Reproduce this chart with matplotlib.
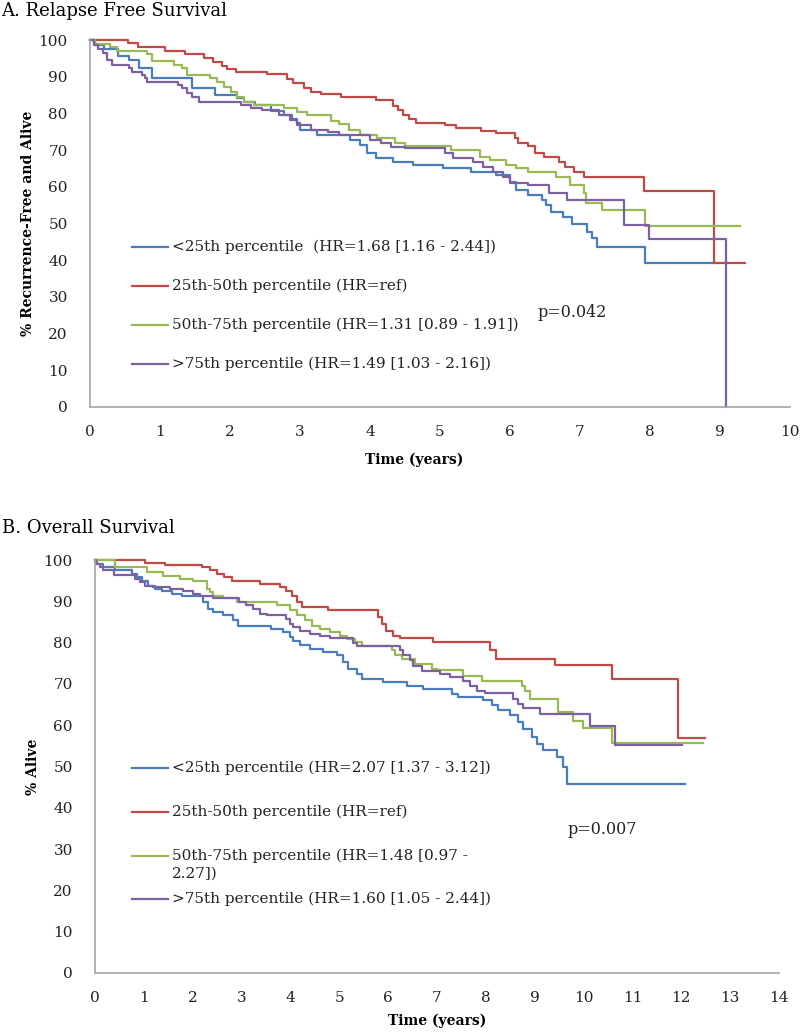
import matplotlib
matplotlib.use("Agg")
import matplotlib.pyplot as plt
from matplotlib.lines import Line2D

# -------- data --------
# Panel A: relapse free survival, step start times (years) and % event-free
rfs_lt25_t = [0, 0.07, 0.2, 0.4, 0.55, 0.7, 0.88, 1.45, 1.78, 2.1, 2.2, 2.35, 2.59, 2.77, 2.88,
              2.95, 3.0, 3.24, 3.72, 3.86, 3.95, 4.09, 4.33, 4.62, 5.04, 5.44, 5.8, 6.0, 6.08,
              6.25, 6.46, 6.51, 6.58, 6.75, 6.89, 7.1, 7.17, 7.24, 7.93, 8.92]
rfs_lt25_s = [100, 98.6, 97.5, 95.7, 94.5, 92.3, 89.6, 86.8, 85.0, 84.1, 83.2, 82.3, 80.6, 79.6, 78.4,
              77.3, 75.5, 74.1, 72.8, 71.4, 69.1, 67.8, 66.8, 65.9, 65.0, 64.1, 63.2, 61.4, 59.1,
              57.8, 56.4, 55.0, 53.2, 51.9, 50.0, 47.8, 46.0, 43.7, 39.2, 39.2]

rfs_25_50_t = [0, 0.54, 0.68, 1.07, 1.35, 1.63, 1.75, 1.88, 1.95, 2.09, 2.53, 2.82, 2.9, 3.05, 3.15,
               3.3, 3.58, 4.09, 4.33, 4.4, 4.47, 4.55, 4.66, 5.07, 5.23, 5.58, 5.8, 6.07, 6.12, 6.25,
               6.35, 6.49, 6.7, 6.79, 6.92, 7.06, 7.91, 8.92, 9.35]
rfs_25_50_s = [100, 99.1, 98.2, 97.1, 96.2, 95.2, 94.1, 93.0, 92.0, 91.4, 90.6, 89.5, 88.2, 87.0, 85.9,
               85.2, 84.4, 83.6, 82.0, 80.8, 79.5, 78.5, 77.5, 76.8, 75.9, 75.2, 74.6, 73.3, 72.0, 71.0,
               69.1, 68.0, 66.8, 65.5, 64.1, 62.6, 58.9, 39.2, 39.2]

rfs_50_75_t = [0, 0.07, 0.28, 0.38, 0.81, 0.88, 1.2, 1.31, 1.39, 1.72, 1.82, 1.92, 2.02, 2.1, 2.2,
               2.34, 2.77, 2.95, 3.1, 3.44, 3.55, 3.7, 3.85, 4.1, 4.35, 4.5, 5.16, 5.57, 5.71, 5.94,
               6.08, 6.25, 6.65, 6.86, 7.06, 7.09, 7.31, 7.93, 9.28]
rfs_50_75_s = [100, 98.8, 98.2, 97.0, 96.1, 94.3, 93.2, 92.3, 90.5, 89.6, 88.6, 87.3, 85.9, 84.6, 83.2,
               82.3, 81.6, 80.5, 79.6, 77.9, 77.0, 75.5, 74.1, 73.2, 71.9, 71.0, 70.0, 68.2, 67.3, 65.9,
               65.0, 64.1, 62.8, 60.5, 58.2, 55.5, 53.7, 49.3, 49.3]

rfs_gt75_t = [0, 0.05, 0.12, 0.19, 0.24, 0.31, 0.55, 0.6, 0.74, 0.78, 0.82, 1.25, 1.31, 1.38, 1.45,
              1.56, 2.15, 2.3, 2.45, 2.7, 2.85, 2.95, 3.15, 3.4, 3.55, 4.0, 4.15, 4.3, 4.5, 5.07,
              5.18, 5.47, 5.61, 5.75, 5.9, 6.0, 6.25, 6.56, 6.82, 7.63, 7.98, 9.09]
rfs_gt75_s = [100, 98.6, 97.5, 96.4, 94.5, 93.2, 92.3, 91.4, 90.5, 89.6, 88.6, 87.7, 86.8, 85.5, 84.6,
              83.2, 82.3, 81.4, 80.9, 79.6, 78.2, 76.8, 75.5, 75.0, 74.1, 72.8, 71.9, 70.9, 70.5, 69.1,
              67.8, 66.8, 65.5, 64.1, 62.8, 61.0, 60.5, 58.2, 56.4, 49.6, 45.7, 0]

# Panel B: overall survival
os_lt25_t = [0, 0.05, 0.17, 0.41, 0.75, 0.85, 0.96, 1.09, 1.23, 1.37, 1.57, 1.78, 2.21, 2.31, 2.41,
             2.62, 2.83, 2.93, 3.6, 3.85, 3.99, 4.06, 4.2, 4.4, 4.67, 4.95, 5.08, 5.18, 5.36, 5.46,
             5.9, 6.38, 6.71, 7.3, 7.43, 7.94, 8.12, 8.25, 8.49, 8.66, 8.76, 8.94, 9.05, 9.17, 9.45,
             9.57, 9.66, 12.08]
os_lt25_s = [100, 99.1, 98.3, 97.5, 96.7, 95.8, 95.0, 93.8, 93.0, 92.4, 91.8, 91.2, 89.8, 88.2, 87.4,
             86.6, 85.4, 84.1, 83.3, 82.5, 81.3, 80.5, 79.3, 78.5, 77.7, 76.9, 75.3, 73.7, 72.4, 71.2,
             70.4, 69.6, 68.8, 67.6, 66.8, 66.0, 64.8, 63.6, 62.4, 60.8, 59.2, 57.1, 55.5, 53.9, 52.3,
             49.8, 45.8, 45.8]

os_25_50_t = [0, 1.02, 1.43, 2.19, 2.35, 2.5, 2.65, 2.8, 3.38, 3.79, 3.9, 4.03, 4.13, 4.24, 4.77,
              5.8, 5.87, 5.95, 6.1, 6.25, 6.92, 8.08, 8.2, 9.41, 10.58, 11.93, 12.48]
os_25_50_s = [100, 99.3, 98.8, 98.3, 97.5, 96.7, 95.8, 95.0, 94.2, 93.4, 92.6, 91.4, 89.8, 88.6, 87.8,
              86.2, 84.6, 82.9, 81.7, 81.1, 80.1, 78.1, 76.1, 74.5, 71.2, 57.0, 57.0]

os_50_75_t = [0, 0.41, 1.06, 1.39, 1.74, 2.0, 2.29, 2.35, 2.41, 2.62, 2.9, 3.72, 3.99, 4.13, 4.3,
              4.44, 4.6, 4.81, 5.01, 5.15, 5.32, 5.46, 6.08, 6.15, 6.28, 6.55, 6.9, 7.0, 7.53, 7.92,
              8.74, 8.8, 8.9, 9.47, 9.78, 9.99, 10.58, 12.44]
os_50_75_s = [100, 98.3, 97.1, 96.2, 95.4, 95.0, 93.0, 92.2, 91.4, 90.8, 89.8, 89.0, 87.8, 86.6, 85.4,
              84.1, 83.3, 82.5, 81.7, 80.9, 80.1, 79.1, 78.1, 76.9, 76.1, 74.9, 73.7, 73.3, 72.0, 70.8,
              69.6, 68.4, 66.4, 63.2, 61.1, 59.4, 55.6, 55.6]

os_gt75_t = [0, 0.02, 0.1, 0.17, 0.38, 0.82, 0.92, 1.02, 1.19, 1.53, 1.8, 2.0, 2.15, 2.41, 2.95,
             3.1, 3.24, 3.38, 3.52, 3.9, 3.99, 4.06, 4.2, 4.4, 4.6, 4.81, 5.28, 5.36, 6.24, 6.3,
             6.44, 6.51, 6.7, 7.06, 7.27, 7.53, 7.67, 7.81, 7.98, 8.55, 8.66, 8.76, 9.11, 10.13,
             10.64, 12.01]
os_gt75_s = [100, 99.1, 98.3, 97.5, 96.4, 95.4, 94.6, 93.8, 93.4, 93.0, 92.4, 91.8, 91.2, 90.8, 89.8,
             89.2, 88.2, 87.0, 86.6, 85.8, 84.6, 83.7, 82.9, 82.1, 81.7, 81.1, 80.0, 79.1, 78.1, 76.9,
             75.7, 74.4, 73.2, 72.4, 71.6, 70.8, 69.6, 68.4, 67.8, 66.4, 65.2, 64.2, 62.8, 59.7,
             55.1, 55.1]

rfs_labels = ["<25th percentile  (HR=1.68 [1.16 - 2.44])",
              "25th-50th percentile (HR=ref)",
              "50th-75th percentile (HR=1.31 [0.89 - 1.91])",
              ">75th percentile (HR=1.49 [1.03 - 2.16])"]
os_labels = ["<25th percentile (HR=2.07 [1.37 - 3.12])",
             "25th-50th percentile (HR=ref)",
             "50th-75th percentile (HR=1.48 [0.97 -\n2.27])",
             ">75th percentile (HR=1.60 [1.05 - 2.44])"]
# ---------------------------------------------

COLORS = ["#4A7EBB", "#BE4B48", "#98B954", "#7D60A0"]
W, H = 800, 1034
FONT = "DejaVu Serif"
plt.rcParams["font.family"] = FONT


def fx(px):
    return px / W


def fy(py):
    return 1 - py / H


def style_axes(ax, xmax, ylabel, xlabel_x, ylab_x, xlab_y):
    ax.set_xlim(0, xmax)
    ax.set_ylim(0, 100)
    ax.set_xticks(range(0, xmax + 1))
    ax.set_yticks(range(0, 101, 10))
    for s in ("top", "right"):
        ax.spines[s].set_visible(False)
    for s in ("left", "bottom"):
        ax.spines[s].set_color("#A6A6A6")
        ax.spines[s].set_linewidth(1.2)
    ax.tick_params(axis="both", length=0, labelsize=11, colors="#222222")
    ax.tick_params(axis="x", pad=13)
    ax.tick_params(axis="y", pad=16)
    ax.set_ylabel(ylabel, fontsize=10, fontweight="bold")
    ax.yaxis.set_label_coords(ylab_x, 0.5)
    ax.set_xlabel("Time (years)", fontsize=10, fontweight="bold")
    ax.xaxis.set_label_coords(xlabel_x, xlab_y)


def draw_legend(fig, labels, ys):
    for lab, y, c in zip(labels, ys, COLORS):
        fig.add_artist(Line2D([fx(132), fx(168)], [fy(y), fy(y)], color=c, lw=1.6))
        fig.text(fx(172), fy(y), lab, fontsize=11, va="center", ha="left",
                 color="#222222", linespacing=1.0)


fig = plt.figure(figsize=(W / 100, H / 100), dpi=100)

# ---- panel A ----
axA = fig.add_axes([fx(90), fy(407), (790 - 90) / W, (407 - 40) / H])
curvesA = [(rfs_lt25_t, rfs_lt25_s), (rfs_25_50_t, rfs_25_50_s),
           (rfs_50_75_t, rfs_50_75_s), (rfs_gt75_t, rfs_gt75_s)]
for (t, s), c in zip(curvesA, COLORS):
    axA.step(t, s, where="post", color=c, lw=1.6, clip_on=False)
style_axes(axA, 10, "% Recurrence-Free and Alive", 0.463, -0.078, -0.123)
fig.text(0.002, fy(16), "A. Relapse Free Survival", fontsize=13, va="baseline", ha="left")
draw_legend(fig, rfs_labels, [247, 286, 325, 364])
fig.text(fx(537), fy(312), "p=0.042", fontsize=11.5, va="center", ha="left", color="#222222")

# ---- panel B ----
axB = fig.add_axes([fx(95), fy(973), (779 - 95) / W, (973 - 560) / H])
curvesB = [(os_lt25_t, os_lt25_s), (os_25_50_t, os_25_50_s),
           (os_50_75_t, os_50_75_s), (os_gt75_t, os_gt75_s)]
for (t, s), c in zip(curvesB, COLORS):
    axB.step(t, s, where="post", color=c, lw=1.6, clip_on=False)
style_axes(axB, 14, "% Alive", 0.5, -0.080, -0.099)
fig.text(0.002, fy(533), "B. Overall Survival", fontsize=13, va="baseline", ha="left")
draw_legend(fig, os_labels[:2], [768, 812])
# wrapped entry: handle sits on the first text line
fig.add_artist(Line2D([fx(132), fx(168)], [fy(856), fy(856)], color=COLORS[2], lw=1.6))
fig.text(fx(172), fy(849), os_labels[2], fontsize=11, va="top", ha="left",
         color="#222222", linespacing=1.3)
fig.add_artist(Line2D([fx(132), fx(168)], [fy(899), fy(899)], color=COLORS[3], lw=1.6))
fig.text(fx(172), fy(899), os_labels[3], fontsize=11, va="center", ha="left", color="#222222")
fig.text(fx(567), fy(829), "p=0.007", fontsize=11.5, va="center", ha="left", color="#222222")

fig.savefig("out.png", dpi=100)
